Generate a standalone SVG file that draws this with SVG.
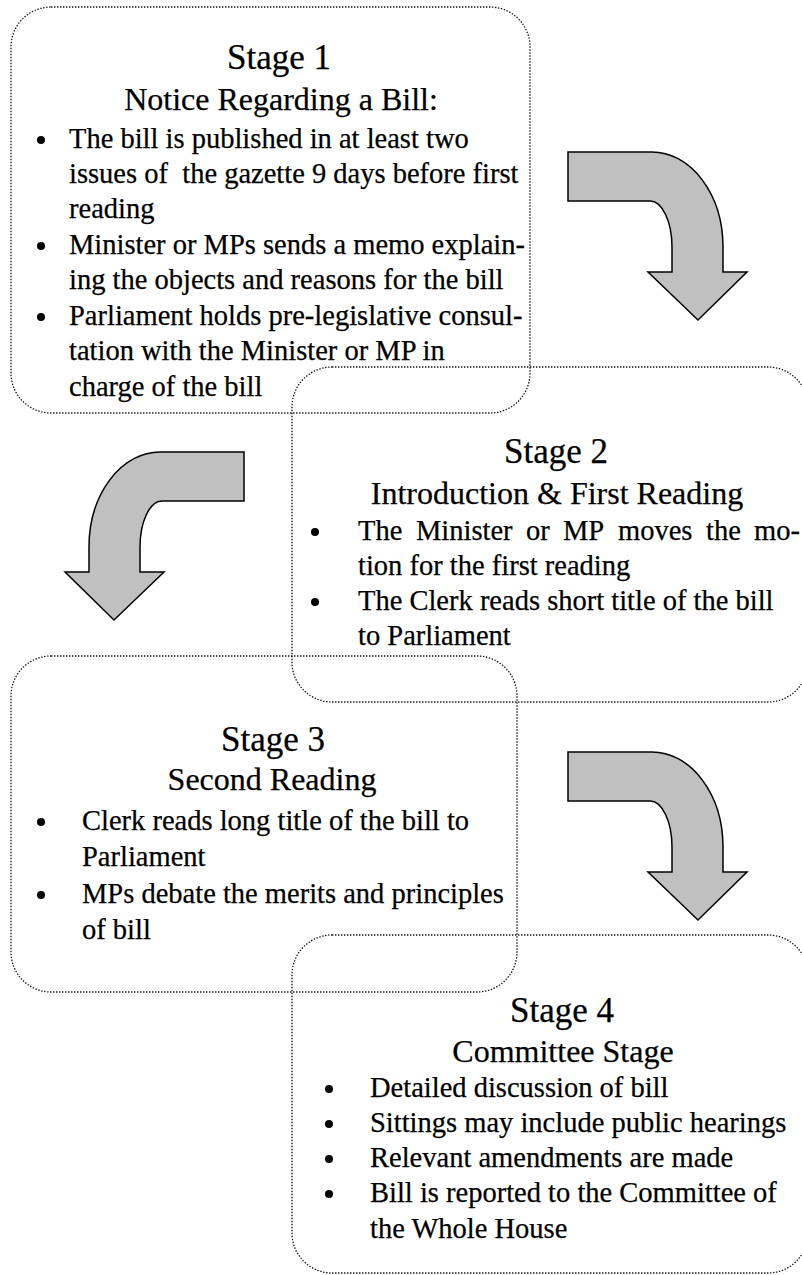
<svg xmlns="http://www.w3.org/2000/svg" width="802" height="1275" viewBox="0 0 802 1275">
<style>
.box{fill:none;stroke:#111;stroke-width:1.3;stroke-dasharray:1.4 1.6}
.arr{fill:#c0c0c0;stroke:#000;stroke-width:1.5;stroke-linejoin:miter}
text{font-family:"Liberation Serif","Times New Roman",serif;fill:#000;stroke:#000;stroke-width:0.25}
.t{font-size:35px;text-anchor:middle}
.s{font-size:32px;text-anchor:middle}
.b{font-size:28.5px}
.dot{fill:#000}
</style>
<defs>
<path id="bend" d="M568,152 H652 A71,95 0 0 1 723,247 V272 H747 L698,320 L648,272 H672 V247 A22,46 0 0 0 650,201 H568 Z"/>
</defs>
<g id="connectors">
<use href="#bend" class="arr"/>
<use href="#bend" class="arr" transform="translate(812,300) scale(-1,1)"/>
<use href="#bend" class="arr" transform="translate(0,600)"/>
</g>
<g id="stage1">
<rect class="box" x="11" y="7" width="519" height="406" rx="40"/>
<text class="t" x="279" y="69">Stage 1</text>
<text class="s" x="281" y="110">Notice Regarding a Bill:</text>
<circle class="dot" cx="41" cy="140" r="4"/>
<circle class="dot" cx="41" cy="246" r="4"/>
<circle class="dot" cx="41" cy="317" r="4"/>
<text class="b" x="69" y="147.5">The bill is published in at least two</text>
<text class="b" x="69" y="183" xml:space="preserve">issues of  the gazette 9 days before first</text>
<text class="b" x="69" y="218">reading</text>
<text class="b" x="69" y="253.5">Minister or MPs sends a memo explain-</text>
<text class="b" x="69" y="289">ing the objects and reasons for the bill</text>
<text class="b" x="69" y="324.5">Parliament holds pre-legislative consul-</text>
<text class="b" x="69" y="360">tation with the Minister or MP in</text>
<text class="b" x="69" y="395.5">charge of the bill</text>
</g>
<g id="stage2">
<rect class="box" x="292" y="367" width="516" height="335" rx="40"/>
<text class="t" x="556" y="463">Stage 2</text>
<text class="s" x="557" y="504">Introduction &amp; First Reading</text>
<circle class="dot" cx="315" cy="532" r="4"/>
<circle class="dot" cx="315" cy="602" r="4"/>
<text class="b" y="540"><tspan x="358">The</tspan><tspan x="416">Minister</tspan><tspan x="526">or</tspan><tspan x="563">MP</tspan><tspan x="618">moves</tspan><tspan x="706">the</tspan><tspan x="754">mo-</tspan></text>
<text class="b" x="358" y="575">tion for the first reading</text>
<text class="b" x="358" y="610">The Clerk reads short title of the bill</text>
<text class="b" x="358" y="645">to Parliament</text>
</g>
<g id="stage3">
<rect class="box" x="11" y="656" width="506" height="336" rx="40"/>
<text class="t" x="273" y="751">Stage 3</text>
<text class="s" x="272" y="790">Second Reading</text>
<circle class="dot" cx="41" cy="822" r="4"/>
<circle class="dot" cx="41" cy="895" r="4"/>
<text class="b" x="82" y="830">Clerk reads long title of the bill to</text>
<text class="b" x="82" y="866">Parliament</text>
<text class="b" x="82" y="903">MPs debate the merits and principles</text>
<text class="b" x="82" y="939">of bill</text>
</g>
<g id="stage4">
<rect class="box" x="292" y="935" width="516" height="338" rx="40"/>
<text class="t" x="562" y="1022">Stage 4</text>
<text class="s" x="563" y="1062">Committee Stage</text>
<circle class="dot" cx="329" cy="1089" r="4"/>
<circle class="dot" cx="329" cy="1124" r="4"/>
<circle class="dot" cx="329" cy="1159" r="4"/>
<circle class="dot" cx="329" cy="1194" r="4"/>
<text class="b" x="370" y="1097">Detailed discussion of bill</text>
<text class="b" x="370" y="1132">Sittings may include public hearings</text>
<text class="b" x="370" y="1167">Relevant amendments are made</text>
<text class="b" x="370" y="1202">Bill is reported to the Committee of</text>
<text class="b" x="370" y="1238">the Whole House</text>
</g>
</svg>
